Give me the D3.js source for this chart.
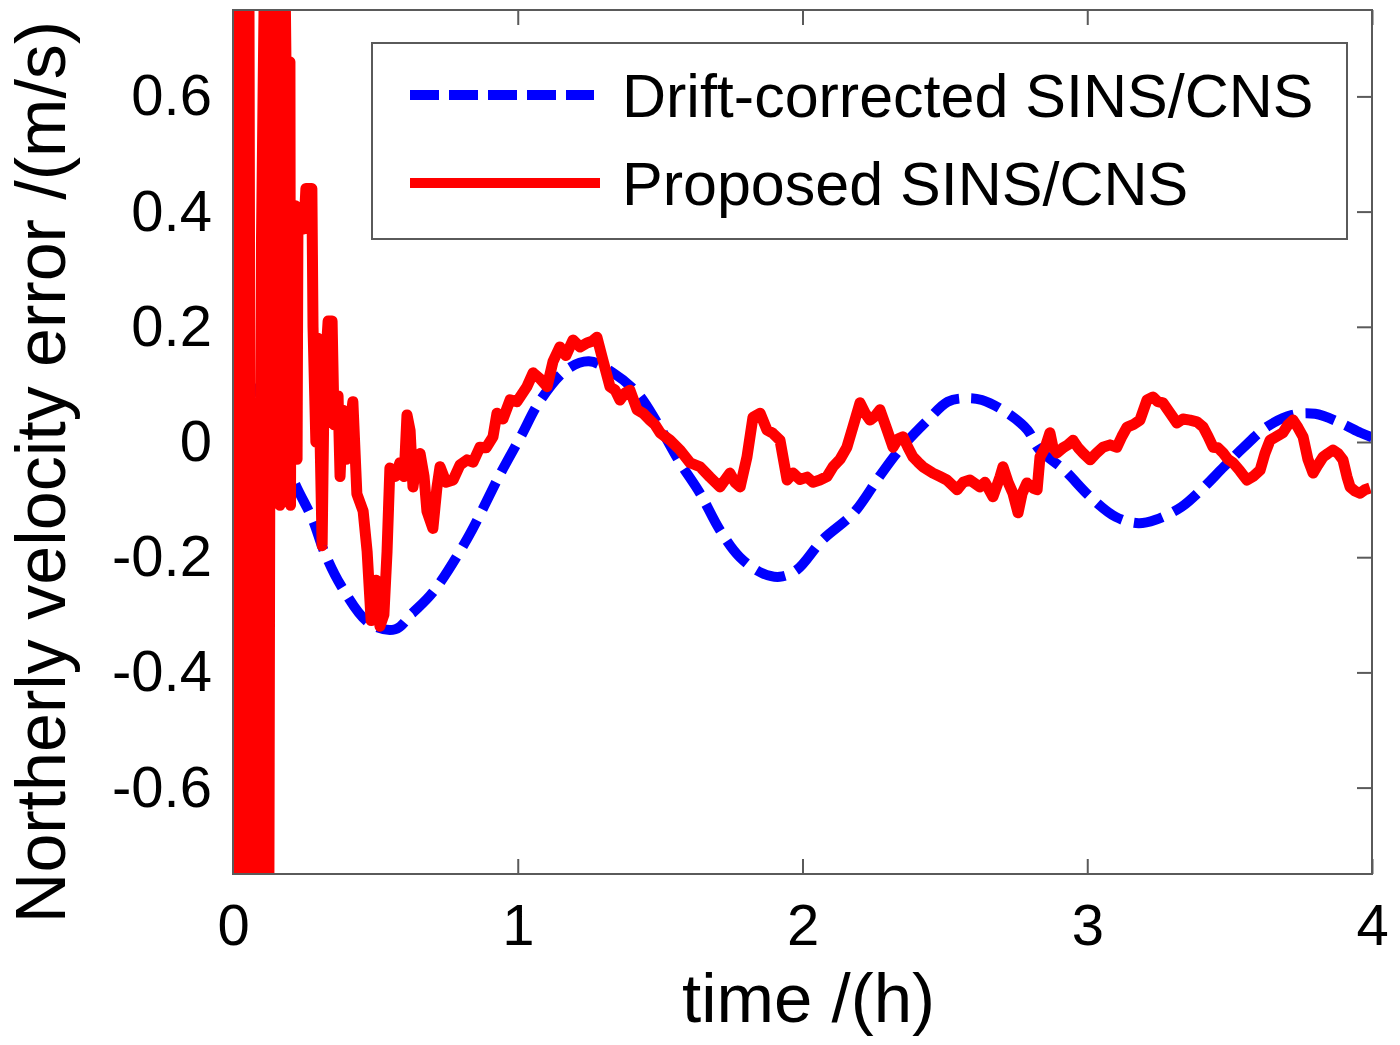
<!DOCTYPE html>
<html>
<head>
<meta charset="utf-8">
<script src="https://cdn.jsdelivr.net/npm/d3@7"></script>
<style>
  html, body { margin: 0; padding: 0; background: #fff; }
  svg { display: block; font-family: "Liberation Sans", Arial, sans-serif; }
</style>
</head>
<body>
<div id="chart"></div>
<script>
const xTicks = [0, 1, 2, 3, 4];
const yTicks = [-0.6, -0.4, -0.2, 0, 0.2, 0.4, 0.6];

const seriesNames = ["Drift-corrected SINS/CNS", "Proposed SINS/CNS"];

// drift-corrected SINS/CNS (blue dashed)
const driftT = [0.0, 0.07, 0.09, 0.147, 0.225, 0.28, 0.32, 0.38, 0.48, 0.57, 0.63, 0.70, 0.82, 0.94,
  1.01, 1.08, 1.17, 1.25, 1.335, 1.42, 1.49, 1.57, 1.64, 1.71, 1.78, 1.86, 1.92, 1.98,
  2.07, 2.18, 2.27, 2.34, 2.44, 2.51, 2.57, 2.63, 2.72, 2.79, 2.83, 2.92,
  3.01, 3.10, 3.18, 3.24, 3.33, 3.40, 3.48, 3.55, 3.63, 3.72, 3.80, 3.89, 3.96, 4.0];
const driftV = [0.10, 0.094, 0.06, 0.003, -0.08, -0.135, -0.19, -0.25, -0.315, -0.325, -0.297, -0.262, -0.17, -0.054,
  0.009, 0.073, 0.125, 0.14, 0.12, 0.085, 0.033, -0.036, -0.089, -0.153, -0.2, -0.228, -0.234, -0.222,
  -0.17, -0.123, -0.06, -0.014, 0.038, 0.07, 0.076, 0.073, 0.05, 0.021, -0.012, -0.049,
  -0.095, -0.13, -0.141, -0.135, -0.113, -0.083, -0.043, -0.009, 0.026, 0.047, 0.049, 0.033, 0.016, 0.008];

// proposed SINS/CNS (red solid)
const propT = [0.000, 0.007, 0.014, 0.021, 0.028, 0.035, 0.042, 0.049, 0.056, 0.063,
  0.081, 0.091, 0.100, 0.110, 0.126, 0.133, 0.155, 0.158, 0.165, 0.170, 0.183,
  0.186, 0.200, 0.202, 0.204, 0.220, 0.225, 0.228, 0.249, 0.256, 0.277,
  0.281, 0.291, 0.299, 0.313, 0.320, 0.334, 0.348, 0.355, 0.369, 0.376, 0.386, 0.397,
  0.411, 0.421, 0.435, 0.457, 0.471, 0.485, 0.502, 0.516, 0.530, 0.541, 0.551, 0.569,
  0.586, 0.601, 0.611, 0.622, 0.632, 0.646, 0.657, 0.671, 0.681, 0.702, 0.716, 0.727,
  0.748, 0.773, 0.797, 0.822, 0.843, 0.867, 0.889, 0.913, 0.927, 0.948, 0.973, 0.997,
  1.032, 1.054, 1.078, 1.103, 1.124, 1.148, 1.169, 1.194, 1.219, 1.243, 1.261, 1.278,
  1.299, 1.324, 1.342, 1.359, 1.377, 1.394, 1.419, 1.440, 1.464, 1.482, 1.500, 1.535,
  1.570, 1.605, 1.640, 1.675, 1.710, 1.745, 1.763, 1.781, 1.805, 1.826, 1.851, 1.875,
  1.896, 1.921, 1.946, 1.967, 1.991, 2.016, 2.037, 2.061, 2.086, 2.107, 2.132, 2.156,
  2.177, 2.202, 2.220, 2.237, 2.255, 2.272, 2.297, 2.318, 2.335, 2.353, 2.371, 2.388,
  2.406, 2.423, 2.458, 2.483, 2.507, 2.543, 2.564, 2.588, 2.623, 2.641, 2.669, 2.694,
  2.704, 2.722, 2.739, 2.757, 2.771, 2.788, 2.810, 2.824, 2.834, 2.852, 2.869, 2.880,
  2.894, 2.915, 2.932, 2.950, 2.968, 2.985, 3.010, 3.031, 3.055, 3.080, 3.104, 3.122,
  3.140, 3.161, 3.185, 3.210, 3.231, 3.248, 3.266, 3.291, 3.315, 3.336, 3.361, 3.385,
  3.407, 3.424, 3.442, 3.459, 3.477, 3.494, 3.512, 3.536, 3.561, 3.582, 3.607, 3.624,
  3.642, 3.666, 3.687, 3.705, 3.723, 3.740, 3.758, 3.775, 3.793, 3.810, 3.828, 3.845,
  3.863, 3.881, 3.898, 3.912, 3.923, 3.940, 3.958, 3.975, 3.993];
const propV = [0.80, -0.80, 0.80, -0.80, 0.80, -0.80, 0.80, -0.80, 0.80, -0.80,
  -0.12, -0.80, 0.35, 0.80, -0.80, 0.80, 0.80, 0.20, -0.11, 0.80, 0.80,
  0.66, 0.66, -0.11, 0.41, 0.41, -0.03, 0.37, 0.37, 0.44, 0.44,
  0.20, 0.00, 0.18, -0.18, 0.10, 0.21, 0.21, 0.03, 0.08, -0.06, 0.055, -0.03,
  0.03, 0.07, -0.09, -0.12, -0.19, -0.31, -0.24, -0.32, -0.30, -0.19, -0.045, -0.06,
  -0.036, -0.06, 0.047, 0.02, -0.078, -0.03, -0.02, -0.06, -0.12, -0.15, -0.08, -0.043,
  -0.07, -0.066, -0.04, -0.031, -0.035, -0.009, -0.01, 0.009, 0.05, 0.04, 0.073, 0.07,
  0.096, 0.12, 0.11, 0.096, 0.14, 0.165, 0.15, 0.177, 0.165, 0.172, 0.175, 0.182,
  0.142, 0.096, 0.09, 0.073, 0.085, 0.09, 0.056, 0.05, 0.038, 0.03, 0.016, 0.003,
  -0.014, -0.036, -0.043, -0.061, -0.078, -0.054, -0.07, -0.078, -0.026, 0.043, 0.05, 0.021,
  0.015, 0.003, -0.066, -0.054, -0.065, -0.061, -0.07, -0.066, -0.06, -0.043, -0.03, -0.009,
  0.026, 0.068, 0.05, 0.038, 0.045, 0.056, 0.021, -0.009, 0.005, 0.009, -0.01, -0.026,
  -0.035, -0.043, -0.054, -0.06, -0.066, -0.083, -0.07, -0.066, -0.078, -0.07, -0.095, -0.06,
  -0.043, -0.07, -0.089, -0.123, -0.09, -0.071, -0.08, -0.083, -0.026, -0.01, 0.016, -0.01,
  -0.019, -0.01, -0.005, 0.003, -0.01, -0.019, -0.031, -0.02, -0.009, -0.005, -0.009, 0.01,
  0.026, 0.03, 0.038, 0.073, 0.078, 0.07, 0.068, 0.05, 0.033, 0.04, 0.038, 0.035,
  0.026, 0.01, -0.009, -0.01, -0.019, -0.03, -0.036, -0.05, -0.066, -0.06, -0.049, -0.02,
  0.003, 0.01, 0.016, 0.03, 0.038, 0.025, 0.009, -0.03, -0.054, -0.04, -0.026, -0.02,
  -0.014, -0.02, -0.031, -0.06, -0.078, -0.085, -0.089, -0.083, -0.08];

const width = 1400, height = 1045;
const margin = { top: 10, right: 28, bottom: 171, left: 233 };

const svg = d3.select("#chart").append("svg")
  .attr("width", width)
  .attr("height", height);

const x = d3.scaleLinear().domain([0, 4]).range([margin.left, width - margin.right]);
const y = d3.scaleLinear().domain([-0.75, 0.75]).range([height - margin.bottom, margin.top]);

const frameColor = "#5a5a5a";
const tickLen = 15;

svg.append("clipPath").attr("id", "plot-clip")
  .append("rect")
  .attr("x", x(0)).attr("y", y(0.75))
  .attr("width", x(4) - x(0)).attr("height", y(-0.75) - y(0.75));

// axes: ticks point inwards on all four sides
const fmtY = d => d === 0 ? "0" : d3.format(".1f")(d).replace("−", "-");

const bottomAxis = svg.append("g")
  .attr("transform", `translate(0,${y(-0.75)})`)
  .call(d3.axisBottom(x).tickValues(xTicks).tickSize(-tickLen).tickPadding(30).tickFormat(d3.format("d")));
const leftAxis = svg.append("g")
  .attr("transform", `translate(${x(0)},0)`)
  .call(d3.axisLeft(y).tickValues(yTicks).tickSize(-tickLen).tickPadding(21).tickFormat(fmtY));
svg.append("g")
  .attr("transform", `translate(0,${y(0.75)})`)
  .call(d3.axisTop(x).tickValues(xTicks).tickSize(-tickLen).tickFormat(""));
svg.append("g")
  .attr("transform", `translate(${x(4)},0)`)
  .call(d3.axisRight(y).tickValues(yTicks).tickSize(-tickLen).tickFormat(""));

svg.selectAll(".domain").remove();
svg.selectAll(".tick line").attr("stroke", frameColor).attr("stroke-width", 2);
bottomAxis.selectAll(".tick text")
  .attr("font-size", 58).attr("fill", "#000")
  .attr("font-family", "'Liberation Sans', Arial, sans-serif");
leftAxis.selectAll(".tick text")
  .attr("font-size", 58).attr("fill", "#000")
  .attr("font-family", "'Liberation Sans', Arial, sans-serif");

// data lines
const plot = svg.append("g").attr("clip-path", "url(#plot-clip)");

const drift = driftT.map((t, i) => ({ t, v: driftV[i] }));
const prop = propT.map((t, i) => ({ t, v: propV[i] }));

plot.append("path")
  .datum(drift)
  .attr("fill", "none")
  .attr("stroke", "#0000ff")
  .attr("stroke-width", 10)
  .attr("stroke-dasharray", "30,12")
  .attr("d", d3.line().x(d => x(d.t)).y(d => y(d.v)).curve(d3.curveCatmullRom));

plot.append("path")
  .datum(prop)
  .attr("fill", "none")
  .attr("stroke", "#ff0000")
  .attr("stroke-width", 11)
  .attr("stroke-linejoin", "round")
  .attr("d", d3.line().x(d => x(d.t)).y(d => y(d.v)));

// frame
svg.append("rect")
  .attr("x", x(0)).attr("y", y(0.75))
  .attr("width", x(4) - x(0)).attr("height", y(-0.75) - y(0.75))
  .attr("fill", "none")
  .attr("stroke", frameColor)
  .attr("stroke-width", 2);

// axis labels
svg.append("text")
  .attr("x", (x(0) + x(4)) / 2 + 6)
  .attr("y", 1022)
  .attr("text-anchor", "middle")
  .attr("font-size", 69)
  .text("time /(h)");

svg.append("text")
  .attr("transform", `translate(65,${(y(0.75) + y(-0.75)) / 2 + 30}) rotate(-90)`)
  .attr("text-anchor", "middle")
  .attr("font-size", 70)
  .text("Northerly velocity error /(m/s)");

// legend
const legend = svg.append("g").attr("transform", "translate(372,43)");
legend.append("rect")
  .attr("width", 975).attr("height", 196)
  .attr("fill", "#fff")
  .attr("stroke", frameColor)
  .attr("stroke-width", 2);

const legendRows = [
  { name: seriesNames[0], color: "#0000ff", dash: "29,10", y: 52 },
  { name: seriesNames[1], color: "#ff0000", dash: null, y: 140 }
];
legendRows.forEach(r => {
  legend.append("line")
    .attr("x1", 38).attr("x2", r.dash ? 222 : 228)
    .attr("y1", r.y).attr("y2", r.y)
    .attr("stroke", r.color)
    .attr("stroke-width", 10)
    .attr("stroke-dasharray", r.dash);
  legend.append("text")
    .attr("x", 250).attr("y", r.y + 22)
    .attr("font-size", 61)
    .text(r.name);
});
</script>
</body>
</html>
